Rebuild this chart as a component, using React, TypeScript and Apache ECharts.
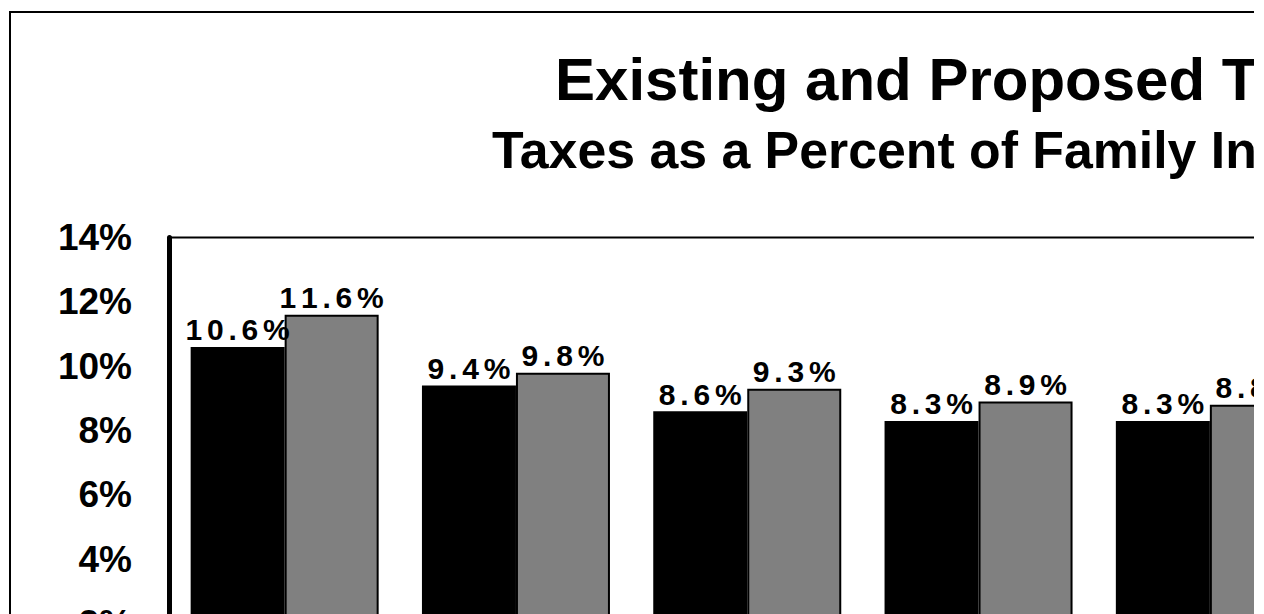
import React, { useEffect, useRef } from "react";
import * as echarts from "echarts";

const categories = ["Group 1", "Group 2", "Group 3", "Group 4", "Group 5"];
const existingValues = [10.6, 9.4, 8.6, 8.3, 8.3];
const proposedValues = [11.6, 9.8, 9.3, 8.9, 8.8];
const yMin = 0;
const yMax = 14;
const yInterval = 2;
const titleText = "Existing and Proposed Tax Burdens";
const subtitleText = "Taxes as a Percent of Family Income";

const FONT = "'Liberation Sans', Arial, Helvetica, sans-serif";

function spacedLabel(p: any) {
  const s = Number(p.value).toFixed(1) + "%";
  return s
    .split("")
    .map((ch) => `{c|${ch}}`)
    .join("");
}

const labelRich = {
  c: {
    fontSize: 30,
    fontWeight: "bold",
    fontFamily: FONT,
    color: "#000",
    padding: [0, 2.4, 0, 2.4],
  },
};

export default function App() {
  const ref = useRef<HTMLDivElement>(null);

  useEffect(() => {
    if (!ref.current) return;
    const chart = echarts.init(ref.current, undefined, { renderer: "svg" });
    chart.setOption({
      animation: false,
      backgroundColor: "#fff",
      graphic: [
        {
          type: "rect",
          shape: { x: 2, y: 4, width: 1500, height: 900 },
          style: { fill: "none", stroke: "#000", lineWidth: 2 },
          silent: true,
        },
        {
          type: "text",
          x: 547,
          y: 71,
          style: {
            text: titleText,
            font: `bold 60px ${FONT}`,
            fill: "#000",
            textAlign: "left",
            textVerticalAlign: "middle",
          },
        },
        {
          type: "text",
          x: 484,
          y: 142,
          style: {
            text: subtitleText,
            font: `bold 51.8px ${FONT}`,
            fill: "#000",
            textAlign: "left",
            textVerticalAlign: "middle",
          },
        },
      ],
      grid: {
        left: 161,
        top: 229.5,
        width: 1156.5,
        height: 450.5,
        show: true,
        borderColor: "#000",
        borderWidth: 2,
        backgroundColor: "transparent",
      },
      xAxis: {
        type: "category",
        data: categories,
        axisLine: { show: true, lineStyle: { color: "#000", width: 2 } },
        axisTick: { show: false },
        axisLabel: { show: false },
      },
      yAxis: {
        type: "value",
        min: yMin,
        max: yMax,
        interval: yInterval,
        axisLine: { show: true, lineStyle: { color: "#000", width: 5 } },
        axisTick: { show: false },
        splitLine: { show: false },
        axisLabel: {
          formatter: (v: number) => `${v}%`,
          fontSize: 37,
          fontWeight: "bold",
          fontFamily: FONT,
          color: "#000",
          margin: 37,
        },
        z: 5,
      },
      series: [
        {
          name: "Existing",
          type: "bar",
          data: existingValues,
          barWidth: 94,
          barGap: "0%",
          itemStyle: { color: "#000", borderColor: "#000", borderWidth: 2 },
          label: {
            show: true,
            position: "top",
            distance: 2,
            formatter: spacedLabel,
            rich: labelRich,
          },
        },
        {
          name: "Proposed",
          type: "bar",
          data: proposedValues,
          barWidth: 94,
          barGap: "0%",
          itemStyle: { color: "#808080", borderColor: "#000", borderWidth: 2 },
          label: {
            show: true,
            position: "top",
            distance: 2,
            formatter: spacedLabel,
            rich: labelRich,
          },
        },
      ],
    });
    return () => chart.dispose();
  }, []);

  return (
    <div
      style={{
        position: "fixed",
        left: 8,
        top: 8,
        width: 1246,
        height: 606,
        overflow: "hidden",
        background: "#fff",
      }}
    >
      <div ref={ref} style={{ width: 1400, height: 760 }} />
    </div>
  );
}
